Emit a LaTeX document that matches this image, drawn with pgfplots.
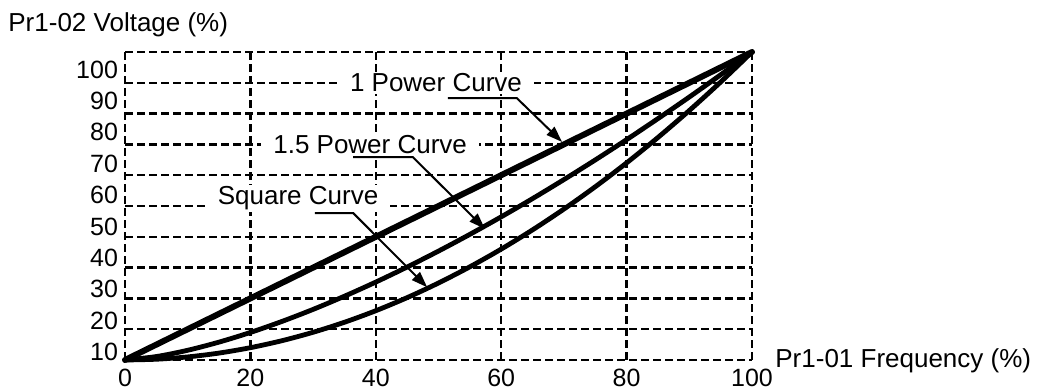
\documentclass[border=0pt]{standalone}
\usepackage{pgfplots}
\pgfplotsset{compat=1.18}
\usepackage{fontspec}
\setmainfont{Liberation Sans}
\usetikzlibrary{arrows.meta}
\begin{document}
\begin{tikzpicture}[font=\fontsize{13}{15}\selectfont]
\useasboundingbox (-62.5pt,-15.5pt) rectangle (460pt,180pt);
\begin{axis}[
  at={(0,0)}, anchor=south west,
  scale only axis, width=313.5pt, height=154pt,
  xmin=0, xmax=100, ymin=0, ymax=100,
  clip=false,
  axis line style={draw=none},
  xtick={0,20,...,100},
  ytick={0,10,...,100},
  yticklabels={},
  major tick length=0pt,
  grid=major,
  grid style={black, line width=1.25pt, dash pattern=on 4pt off 2pt},
  /pgf/number format/assume math mode=true,
  tick label style={font=\fontsize{12.5}{14}\selectfont},
  xticklabel style={yshift=-1pt},
  extra y ticks={2.6,12.8,23.0,33.2,43.3,53.5,63.7,73.9,84.0,94.2},
  extra y tick labels={10,20,30,40,50,60,70,80,90,100},
  extra y tick style={grid=none, major tick length=0pt},
]
\addplot[black, line width=3pt, line cap=round] coordinates {(0,0) (100,100)};
\addplot[black, line width=2.4pt, line cap=round, smooth] coordinates {
(0,0) (5,1.12) (10,3.16) (15,5.81) (20,8.94) (25,12.5) (30,16.43) (35,20.71) (40,25.30) (45,30.19) (50,35.36) (55,40.79) (60,46.48) (65,52.40) (70,58.57) (75,64.95) (80,71.55) (85,78.37) (90,85.38) (95,92.60) (100,100)};
\addplot[black, line width=2.4pt, line cap=round, smooth] coordinates {
(0,0) (5,0.25) (10,1) (15,2.25) (20,4) (25,6.25) (30,9) (35,12.25) (40,16) (45,20.25) (50,25) (55,30.25) (60,36) (65,42.25) (70,49) (75,56.25) (80,64) (85,72.25) (90,81) (95,90.25) (100,100)};
\node[fill=white, inner xsep=6pt, inner ysep=1pt] at (axis cs:49.6,90) {1 Power Curve};
\node[fill=white, inner xsep=6pt, inner ysep=1pt] at (axis cs:39.1,70) {1.5 Power Curve};
\node[fill=white, inner xsep=6pt, inner ysep=1pt] at (axis cs:27.6,52.5) {Square Curve};
\draw[line width=1pt, -{Triangle[length=8pt,width=5.5pt]}] (axis cs:51.5,85) -- (axis cs:62.5,85) -- (axis cs:69.7,70.8);
\draw[line width=1pt, -{Triangle[length=8pt,width=5.5pt]}] (axis cs:36.4,65.9) -- (axis cs:45.9,65.9) -- (axis cs:57.4,42.6);
\draw[line width=1pt, -{Triangle[length=8pt,width=5.5pt]}] (axis cs:30.3,47.7) -- (axis cs:36.4,47.7) -- (axis cs:48.2,23.6);
\end{axis}
\node[anchor=west, inner sep=0pt] at (-58.5pt,167.5pt) {Pr1-02 Voltage (\%)};
\node[anchor=west, inner sep=0pt] at (325pt,-0.5pt) {Pr1-01 Frequency (\%)};
\end{tikzpicture}
\end{document}
